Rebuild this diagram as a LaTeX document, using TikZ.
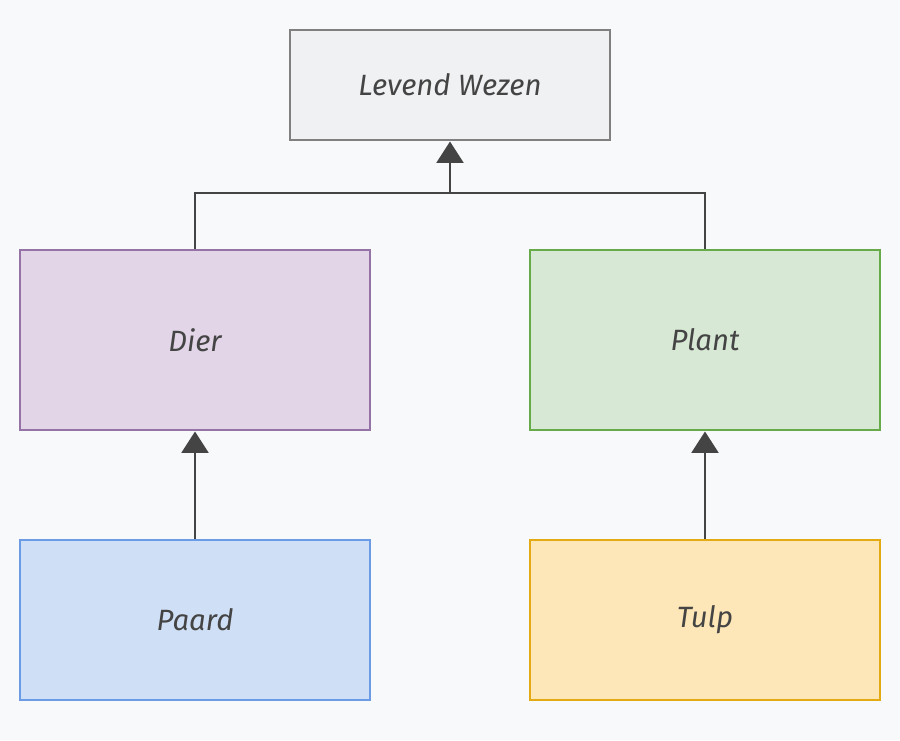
\documentclass[tikz,border=0pt]{standalone}
\usepackage{fontspec}
\setmainfont{Fira Sans}
\usetikzlibrary{arrows.meta}

\definecolor{bgpage}{RGB}{248,249,250}
\definecolor{inkgray}{RGB}{68,68,68}
\definecolor{levfill}{RGB}{240,241,243}
\definecolor{levdraw}{RGB}{128,128,128}
\definecolor{dierfill}{RGB}{225,213,231}
\definecolor{dierdraw}{RGB}{150,115,166}
\definecolor{plantfill}{RGB}{215,233,212}
\definecolor{plantdraw}{RGB}{102,170,74}
\definecolor{paardfill}{RGB}{207,224,246}
\definecolor{paarddraw}{RGB}{108,155,230}
\definecolor{tulpfill}{RGB}{253,230,183}
\definecolor{tulpdraw}{RGB}{227,170,20}

\tikzset{every picture/.style={line width=0.75pt}}
\tikzset{
  klasse/.style={draw, line width=2.2pt, inner sep=0pt, text=inkgray,
    font=\itshape\fontsize{22}{26}\selectfont},
  erft/.style={draw=inkgray, line width=2.2pt,
    -{Triangle[width=20pt,length=16pt]}},
}

\begin{document}
\begin{tikzpicture}[x=0.75pt,y=0.75pt,yscale=-1,xscale=1]
	%set diagram to 900 x 740
	\fill [bgpage] (0,0) rectangle (900,740);
	\useasboundingbox (0,0) rectangle (900,740);

	% Levend Wezen
	\node [klasse, fill=levfill, draw=levdraw, minimum width=240pt, minimum height=82.5pt] (levend) at (450,85) {Levend Wezen};
	% Dier
	\node [klasse, fill=dierfill, draw=dierdraw, minimum width=262.5pt, minimum height=135pt] (dier) at (195,340) {Dier};
	% Plant
	\node [klasse, fill=plantfill, draw=plantdraw, minimum width=262.5pt, minimum height=135pt] (plant) at (705,340) {Plant};
	% Paard
	\node [klasse, fill=paardfill, draw=paarddraw, minimum width=262.5pt, minimum height=120pt] (paard) at (195,620) {Paard};
	% Tulp
	\node [klasse, fill=tulpfill, draw=tulpdraw, minimum width=262.5pt, minimum height=120pt] (tulp) at (705,620) {Tulp};

	% junction above Dier and Plant
	\coordinate (knoop) at (450,193);
	\draw [draw=inkgray, line width=2.2pt] (dier.north) |- (knoop) -| (plant.north);
	\draw [erft] (knoop) -- (levend.south);
	\draw [erft] (paard.north) -- (dier.south);
	\draw [erft] (tulp.north) -- (plant.south);

\end{tikzpicture}
\end{document}
